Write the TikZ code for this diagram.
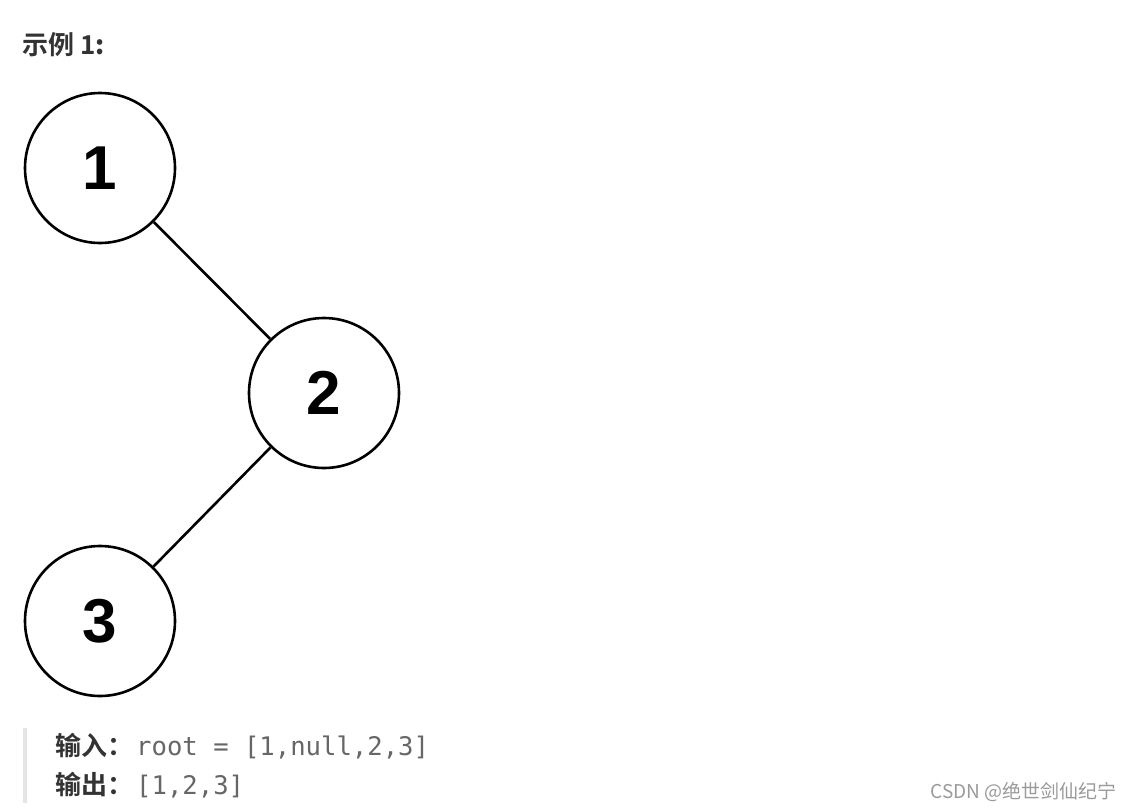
\documentclass[tikz,border=0pt]{standalone}
\usepackage{fontspec}
\setmainfont{Liberation Sans}
\newfontfamily\cjkf{Noto Sans CJK SC}
\newfontfamily\cjkb{Noto Sans CJK SC Bold}
\newfontfamily\monof{DejaVu Sans Mono}
\definecolor{txt}{HTML}{333333}
\definecolor{codec}{HTML}{666666}
\definecolor{wm}{HTML}{9A9A9A}
\definecolor{barc}{HTML}{E5E5E5}
\begin{document}
\begin{tikzpicture}[x=1pt,y=-1pt,
  treenode/.style={circle,draw=black,line width=2.6pt,minimum size=150pt,inner sep=0pt,
    font=\fontsize{62}{70}\selectfont\bfseries},
  edge/.style={draw=black,line width=2.6pt},
  lbl/.style={anchor=base west,inner sep=0pt,text=txt,font=\cjkb\fontsize{26}{30}\selectfont},
  code/.style={anchor=base west,inner sep=0pt,text=codec,font=\monof\fontsize{25.6}{30}\selectfont}]
\useasboundingbox (0,0) rectangle (1132,809);
\fill[white] (0,0) rectangle (1132,809);
\node[lbl] (title) at (22,54) {示例 1\textbf{:}};
\node[treenode] (n1) at (100,168) {1};
\node[treenode] (n2) at (324,393) {2};
\node[treenode] (n3) at (100,621) {3};
\draw[edge] (n1) -- (n2);
\draw[edge] (n2) -- (n3);
\fill[barc] (23,728) rectangle (27,803);
\node[lbl] (inl) at (55,755) {输入：};
\node[code] (inc) at (136,755) {root = [1,null,2,3]};
\node[lbl] (outl) at (55,794) {输出：};
\node[code] (outc) at (136,794) {[1,2,3]};
\node[anchor=base east,inner sep=0pt,text=wm,font=\cjkf\fontsize{19}{22}\selectfont] (wmk) at (1117,798) {CSDN @绝世剑仙纪宁};
\end{tikzpicture}
\end{document}
